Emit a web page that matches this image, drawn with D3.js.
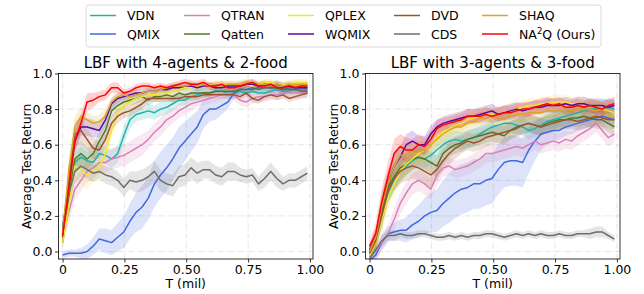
<!DOCTYPE html>
<html><head><meta charset="utf-8">
<script src="https://cdn.jsdelivr.net/npm/d3@7"></script>
<style>body{margin:0;background:#fff}svg{display:block;font-family:"DejaVu Sans",sans-serif}</style>
</head><body><svg id="c" width="644" height="294"></svg>
<script>
// ---- data ----
const T = d3.range(41).map(i => +(i * 0.99 / 40).toFixed(4));
const methods = ["VDN","QMIX","QTRAN","Qatten","QPLEX","WQMIX","DVD","CDS","SHAQ","NA2Q"];
const colors = ["#20b2aa","#4169e1","#d980b8","#55772c","#f2e52e","#5a0aa5","#a0522d","#6e6e6e","#daa520","#ff0000"];
const titles = ["LBF with 4-agents & 2-food","LBF with 3-agents & 3-food"];
const yTicks = [0,0.2,0.4,0.6,0.8,1.0];
const xTicks = [0,0.25,0.5,0.75,1.0];
const xTickLabels = ["0","0.25","0.50","0.75","1.00"];

// left chart means
const L_VDN   = [.12,.30,.50,.53,.51,.50,.55,.54,.52,.55,.65,.74,.77,.78,.79,.78,.80,.81,.83,.85,.85,.87,.88,.89,.89,.90,.90,.89,.89,.90,.89,.90,.89,.89,.90,.91,.90,.90,.91,.91,.91];
const L_QMIX  = [-.02,-.01,-.01,-.01,0,.03,.07,.06,.05,.08,.11,.17,.22,.25,.30,.38,.43,.47,.52,.58,.62,.66,.70,.77,.80,.80,.82,.84,.89,.91,.91,.92,.91,.92,.92,.92,.91,.92,.92,.92,.92];
const L_QTRAN = [.08,.22,.35,.40,.45,.47,.50,.50,.52,.53,.54,.56,.58,.60,.63,.67,.70,.74,.76,.79,.81,.83,.84,.85,.86,.87,.88,.89,.88,.85,.84,.86,.87,.87,.88,.88,.89,.89,.89,.89,.89];
const L_Qatten= [.05,.30,.52,.55,.52,.55,.62,.68,.79,.82,.84,.85,.86,.87,.85,.87,.87,.88,.87,.89,.88,.89,.89,.89,.89,.90,.90,.90,.90,.91,.91,.91,.92,.92,.92,.92,.91,.91,.91,.90,.90];
const L_QPLEX = [.05,.25,.48,.46,.43,.46,.47,.55,.68,.78,.82,.84,.86,.87,.88,.88,.89,.89,.90,.91,.92,.92,.93,.93,.93,.94,.94,.94,.93,.94,.94,.93,.94,.95,.95,.94,.94,.94,.95,.95,.95];
const L_WQMIX = [.10,.40,.62,.70,.70,.69,.68,.74,.83,.86,.87,.88,.89,.89,.90,.90,.91,.91,.92,.92,.93,.93,.92,.93,.93,.92,.92,.93,.93,.93,.94,.94,.93,.94,.93,.94,.93,.93,.92,.92,.92];
const L_DVD   = [.08,.40,.66,.68,.63,.58,.57,.63,.72,.76,.78,.79,.81,.83,.86,.86,.86,.86,.86,.86,.87,.87,.87,.88,.88,.88,.88,.88,.88,.87,.89,.86,.85,.87,.88,.87,.88,.86,.87,.88,.89];
const L_CDS   = [.15,.32,.45,.48,.46,.44,.45,.43,.42,.40,.36,.40,.39,.40,.42,.45,.40,.38,.37,.42,.43,.47,.44,.46,.46,.43,.42,.45,.45,.43,.42,.43,.38,.41,.45,.41,.38,.40,.40,.42,.44];
const L_SHAQ  = [.10,.45,.70,.76,.74,.72,.73,.76,.84,.87,.88,.87,.88,.89,.90,.90,.91,.92,.93,.93,.93,.94,.93,.94,.93,.94,.93,.94,.94,.94,.95,.95,.94,.94,.93,.94,.93,.94,.94,.94,.94];
const L_NA2Q  = [.09,.35,.62,.72,.84,.85,.87,.88,.92,.92,.89,.90,.92,.93,.93,.92,.93,.92,.93,.94,.95,.94,.94,.95,.93,.93,.94,.92,.92,.93,.94,.95,.93,.93,.94,.92,.92,.93,.92,.93,.93];

// left chart spreads (half width of shaded band)
const Ls_VDN   = [.03,.06,.06,.06,.05,.05,.05,.05,.05,.05,.05,.05,.04,.04,.04,.04,.04,.04,.04,.03,.03,.03,.03,.03,.02,.02,.02,.02,.02,.02,.02,.02,.02,.02,.02,.02,.02,.02,.02,.02,.02];
const Ls_QMIX  = [.02,.02,.02,.03,.04,.05,.06,.07,.07,.08,.09,.10,.11,.12,.12,.13,.13,.13,.12,.12,.11,.10,.09,.08,.07,.06,.05,.04,.03,.03,.03,.03,.03,.03,.03,.03,.03,.03,.03,.03,.03];
const Ls_QTRAN = [.03,.06,.06,.06,.06,.06,.06,.06,.06,.06,.06,.06,.06,.06,.05,.05,.05,.05,.04,.04,.04,.04,.03,.03,.03,.03,.03,.03,.03,.03,.03,.03,.03,.03,.03,.03,.03,.03,.03,.03,.03];
const Ls_Qatten= [.03,.08,.08,.07,.06,.05,.05,.04,.04,.03,.03,.03,.03,.03,.03,.03,.03,.03,.03,.03,.03,.02,.02,.02,.02,.02,.02,.02,.02,.02,.02,.02,.02,.02,.02,.02,.02,.02,.02,.02,.02];
const Ls_QPLEX = [.03,.08,.08,.08,.08,.07,.06,.06,.05,.04,.03,.03,.03,.02,.02,.02,.02,.02,.02,.02,.02,.02,.02,.02,.02,.02,.02,.02,.02,.02,.02,.02,.02,.02,.02,.02,.02,.02,.02,.02,.02];
const Ls_WQMIX = [.03,.08,.06,.05,.05,.05,.04,.04,.03,.03,.02,.02,.02,.02,.02,.02,.02,.02,.02,.02,.02,.02,.02,.02,.02,.02,.02,.02,.02,.02,.02,.02,.02,.02,.02,.02,.02,.02,.02,.02,.02];
const Ls_DVD   = [.03,.08,.07,.07,.06,.06,.05,.05,.04,.04,.03,.03,.03,.03,.02,.02,.02,.02,.02,.02,.02,.02,.02,.02,.02,.02,.02,.02,.02,.02,.02,.02,.02,.02,.02,.02,.02,.02,.02,.02,.02];
const Ls_CDS   = [.04,.06,.07,.06,.05,.05,.04,.05,.05,.05,.05,.05,.06,.06,.06,.06,.06,.06,.06,.06,.06,.06,.06,.05,.05,.05,.05,.05,.05,.04,.04,.04,.04,.05,.05,.05,.04,.04,.04,.04,.04];
const Ls_SHAQ  = [.03,.08,.06,.05,.05,.04,.04,.04,.03,.03,.02,.02,.02,.02,.02,.02,.02,.02,.02,.02,.02,.02,.02,.02,.02,.02,.02,.02,.02,.02,.02,.02,.02,.02,.02,.02,.02,.02,.02,.02,.02];
const Ls_NA2Q  = [.03,.06,.06,.05,.05,.04,.03,.03,.03,.03,.02,.02,.02,.02,.02,.02,.02,.02,.02,.02,.02,.02,.02,.02,.02,.02,.02,.02,.02,.02,.02,.02,.02,.02,.02,.02,.02,.02,.02,.02,.02];

// right chart means
const R_VDN   = [0,.06,.20,.33,.40,.45,.48,.51,.53,.52,.54,.57,.60,.62,.63,.62,.63,.64,.66,.68,.70,.71,.72,.72,.71,.70,.68,.69,.71,.73,.74,.75,.76,.77,.78,.79,.80,.80,.80,.81,.80];
const R_QMIX  = [-.05,-.02,.05,.10,.11,.12,.12,.15,.17,.20,.22,.23,.27,.30,.33,.35,.36,.38,.38,.40,.41,.46,.50,.51,.51,.50,.57,.62,.66,.67,.68,.68,.70,.71,.72,.73,.74,.75,.76,.75,.74];
const R_QTRAN = [-.03,0,.05,.10,.18,.27,.33,.38,.40,.38,.35,.43,.47,.48,.46,.47,.48,.50,.52,.55,.55,.56,.57,.58,.59,.58,.60,.62,.60,.61,.62,.61,.63,.62,.65,.67,.69,.72,.68,.64,.66];
const R_Qatten= [-.01,.07,.22,.36,.42,.47,.49,.52,.53,.52,.50,.48,.55,.58,.60,.61,.63,.64,.65,.66,.67,.66,.65,.68,.70,.71,.72,.71,.70,.72,.73,.74,.74,.75,.75,.76,.75,.74,.74,.72,.70];
const R_QPLEX = [-.02,.05,.18,.30,.38,.45,.49,.52,.55,.57,.60,.64,.67,.69,.71,.72,.74,.75,.76,.77,.77,.77,.78,.79,.80,.81,.82,.82,.83,.83,.84,.84,.84,.83,.83,.83,.82,.82,.80,.79,.78];
const R_WQMIX = [.01,.08,.25,.38,.48,.53,.60,.62,.60,.60,.66,.70,.72,.73,.74,.75,.76,.76,.77,.78,.79,.77,.78,.79,.80,.79,.80,.81,.81,.82,.82,.82,.83,.82,.83,.83,.82,.82,.82,.81,.82];
const R_DVD   = [-.01,.06,.20,.34,.41,.45,.47,.48,.47,.45,.43,.46,.51,.55,.58,.60,.62,.61,.62,.64,.65,.66,.67,.68,.69,.71,.72,.71,.70,.71,.72,.73,.74,.74,.73,.74,.75,.76,.75,.74,.74];
const R_CDS   = [-.04,.01,.06,.09,.09,.10,.09,.09,.10,.10,.09,.08,.08,.09,.08,.09,.08,.09,.09,.10,.10,.09,.08,.09,.10,.09,.10,.09,.10,.09,.09,.10,.09,.09,.10,.10,.10,.11,.11,.09,.07];
const R_SHAQ  = [0,.08,.25,.38,.48,.54,.55,.55,.56,.57,.60,.63,.66,.68,.70,.70,.72,.73,.75,.75,.76,.75,.74,.76,.77,.77,.78,.78,.78,.79,.79,.79,.80,.79,.80,.80,.80,.79,.80,.77,.75];
const R_NA2Q  = [.03,.10,.28,.42,.55,.59,.57,.57,.60,.59,.63,.69,.71,.72,.73,.74,.76,.76,.76,.77,.76,.77,.78,.78,.79,.80,.80,.81,.82,.83,.82,.83,.81,.81,.82,.81,.82,.81,.80,.82,.83];

// right chart spreads
const Rs_VDN   = [.03,.05,.06,.06,.06,.06,.05,.05,.05,.05,.05,.05,.05,.05,.05,.05,.05,.05,.05,.05,.05,.05,.05,.05,.05,.05,.05,.05,.05,.05,.05,.05,.05,.05,.05,.05,.05,.05,.05,.05,.05];
const Rs_QMIX  = [.03,.03,.04,.04,.05,.06,.07,.08,.09,.10,.11,.12,.13,.14,.14,.14,.14,.14,.14,.14,.14,.14,.14,.14,.14,.14,.13,.11,.09,.07,.06,.05,.05,.05,.04,.04,.04,.04,.04,.04,.04];
const Rs_QTRAN = [.03,.04,.05,.05,.06,.06,.06,.06,.06,.06,.06,.06,.05,.05,.05,.05,.05,.05,.05,.05,.05,.05,.05,.05,.05,.05,.05,.05,.05,.05,.05,.05,.05,.05,.05,.05,.05,.05,.05,.05,.05];
const Rs_Qatten= [.03,.05,.07,.07,.07,.07,.06,.06,.06,.06,.06,.06,.06,.05,.05,.05,.05,.05,.05,.05,.05,.05,.05,.05,.05,.05,.05,.05,.05,.05,.05,.05,.05,.05,.05,.05,.05,.05,.05,.05,.05];
const Rs_QPLEX = [.03,.05,.07,.07,.07,.07,.06,.06,.06,.06,.05,.05,.05,.05,.05,.05,.04,.04,.04,.04,.04,.04,.04,.04,.04,.04,.04,.04,.04,.04,.04,.04,.04,.04,.04,.04,.04,.04,.04,.04,.04];
const Rs_WQMIX = [.03,.05,.07,.07,.07,.06,.06,.06,.05,.05,.05,.04,.04,.04,.04,.04,.04,.04,.04,.04,.04,.04,.04,.04,.04,.04,.04,.04,.04,.04,.04,.04,.04,.04,.04,.04,.04,.04,.04,.04,.04];
const Rs_DVD   = [.03,.05,.07,.07,.07,.07,.07,.07,.07,.07,.07,.06,.06,.06,.06,.05,.05,.05,.05,.05,.05,.05,.05,.05,.05,.05,.05,.05,.05,.05,.05,.05,.05,.05,.05,.05,.05,.05,.05,.05,.05];
const Rs_CDS   = [.02,.02,.03,.03,.03,.02,.02,.02,.02,.02,.02,.02,.02,.02,.02,.02,.02,.02,.02,.02,.02,.02,.02,.02,.02,.02,.02,.02,.02,.02,.02,.02,.02,.02,.02,.02,.03,.03,.03,.02,.02];
const Rs_SHAQ  = [.03,.05,.07,.07,.07,.06,.06,.06,.06,.05,.05,.05,.05,.05,.04,.04,.04,.04,.04,.04,.04,.04,.04,.04,.04,.04,.04,.04,.04,.04,.04,.04,.04,.04,.04,.04,.04,.04,.04,.04,.04];
const Rs_NA2Q  = [.03,.06,.08,.08,.08,.07,.07,.06,.06,.05,.05,.05,.04,.04,.04,.04,.04,.04,.04,.04,.04,.04,.04,.04,.04,.04,.04,.04,.04,.04,.04,.04,.04,.04,.04,.04,.04,.04,.04,.04,.04];

const leftMeans  = [L_VDN,L_QMIX,L_QTRAN,L_Qatten,L_QPLEX,L_WQMIX,L_DVD,L_CDS,L_SHAQ,L_NA2Q];
const leftSpread = [Ls_VDN,Ls_QMIX,Ls_QTRAN,Ls_Qatten,Ls_QPLEX,Ls_WQMIX,Ls_DVD,Ls_CDS,Ls_SHAQ,Ls_NA2Q];
const rightMeans = [R_VDN,R_QMIX,R_QTRAN,R_Qatten,R_QPLEX,R_WQMIX,R_DVD,R_CDS,R_SHAQ,R_NA2Q];
const rightSpread= [Rs_VDN,Rs_QMIX,Rs_QTRAN,Rs_Qatten,Rs_QPLEX,Rs_WQMIX,Rs_DVD,Rs_CDS,Rs_SHAQ,Rs_NA2Q];

// ---- drawing ----
const svg = d3.select("#c");
const panels = [
  {left:58.5, means:leftMeans, spread:leftSpread, title:titles[0]},
  {left:365.5, means:rightMeans, spread:rightSpread, title:titles[1]}
];
const W = 254.5, yTop = 73.5, yBot = 259;

panels.forEach((p, pi) => {
  const x = d3.scaleLinear().domain([-0.0165, 1.0125]).range([p.left, p.left + W]);
  const y = d3.scaleLinear().domain([-0.042, 1.0]).range([yBot, yTop]);
  const g = svg.append("g");
  const cid = "clip" + pi;
  svg.append("clipPath").attr("id", cid).append("rect")
    .attr("x", p.left).attr("y", yTop).attr("width", W).attr("height", yBot - yTop);

  // grid
  g.append("g").selectAll("line").data(xTicks).join("line")
    .attr("x1", d => x(d)).attr("x2", d => x(d)).attr("y1", yTop).attr("y2", yBot)
    .attr("stroke", "#dcdcdc").attr("stroke-width", 0.8).attr("stroke-dasharray", "5,2,1,2");
  g.append("g").selectAll("line").data(yTicks).join("line")
    .attr("y1", d => y(d)).attr("y2", d => y(d)).attr("x1", p.left).attr("x2", p.left + W)
    .attr("stroke", "#dcdcdc").attr("stroke-width", 0.8).attr("stroke-dasharray", "5,2,1,2");

  const plot = g.append("g").attr("clip-path", `url(#${cid})`);
  const area = d3.area().x((d, i) => x(T[i])).y0(d => y(d[0] - d[1])).y1(d => y(d[0] + d[1]));
  const line = d3.line().x((d, i) => x(T[i])).y(d => y(d));
  methods.forEach((m, k) => {
    const rows = p.means[k].map((v, i) => [v, p.spread[k][i]]);
    plot.append("path").attr("d", area(rows)).attr("fill", colors[k]).attr("fill-opacity", 0.18).attr("stroke", "none");
  });
  methods.forEach((m, k) => {
    plot.append("path").attr("d", line(p.means[k])).attr("fill", "none")
      .attr("stroke", colors[k]).attr("stroke-width", 1.5).attr("stroke-linejoin", "round");
  });

  // axes
  const xa = d3.axisBottom(x).tickValues(xTicks).tickFormat((d, i) => xTickLabels[i]).tickSize(3.5).tickPadding(3);
  const ya = d3.axisLeft(y).tickValues(yTicks).tickFormat(d3.format(".1f")).tickSize(3.5).tickPadding(2.5);
  const gx = g.append("g").attr("transform", `translate(0,${yBot})`).call(xa);
  const gy = g.append("g").attr("transform", `translate(${p.left},0)`).call(ya);
  [gx, gy].forEach(a => {
    a.select(".domain").remove();
    a.selectAll("text").attr("font-size", 12.5).attr("fill", "#000").attr("font-family", "DejaVu Sans");
    a.selectAll("line").attr("stroke", "#000").attr("stroke-width", 0.8);
  });
  g.append("rect").attr("x", p.left).attr("y", yTop).attr("width", W).attr("height", yBot - yTop)
    .attr("fill", "none").attr("stroke", "#000").attr("stroke-width", 0.8);

  g.append("text").attr("x", p.left + W / 2).attr("y", 68).attr("text-anchor", "middle")
    .attr("font-size", 15).text(p.title);
  g.append("text").attr("x", p.left + W / 2).attr("y", 288).attr("text-anchor", "middle")
    .attr("font-size", 12.5).text("T (mil)");
  g.append("text").attr("transform", `translate(${p.left - 27.5},${(yTop + yBot) / 2}) rotate(-90)`)
    .attr("text-anchor", "middle").attr("font-size", 12.5).text("Average Test Return");
});

// legend
const lg = svg.append("g");
lg.append("rect").attr("x", 86).attr("y", 5).attr("width", 515).attr("height", 42).attr("rx", 3)
  .attr("fill", "#fff").attr("stroke", "#d0d0d0").attr("stroke-width", 0.8);
const colX = [90, 184, 288, 394, 482];
const rowY = [15.5, 34];
methods.forEach((m, k) => {
  const cx = colX[Math.floor(k / 2)], cy = rowY[k % 2];
  lg.append("line").attr("x1", cx).attr("x2", cx + 26).attr("y1", cy).attr("y2", cy)
    .attr("stroke", colors[k]).attr("stroke-width", 1.5);
  const t = lg.append("text").attr("x", cx + 37).attr("y", cy + 4.5).attr("font-size", 12.5);
  if (m === "NA2Q") {
    t.append("tspan").text("NA");
    t.append("tspan").attr("font-size", 8.5).attr("dy", -5).text("2");
    t.append("tspan").attr("dy", 5).text("Q (Ours)");
  } else t.text(m);
});
</script></body></html>
